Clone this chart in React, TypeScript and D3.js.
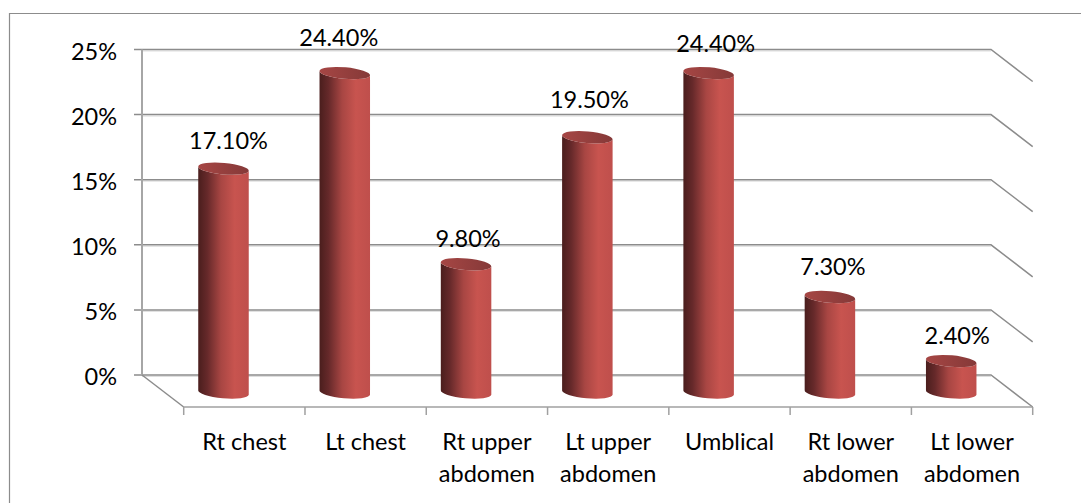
import React from 'react';
import * as d3 from 'd3';

const categories = [
  ['Rt chest'],
  ['Lt chest'],
  ['Rt upper', 'abdomen'],
  ['Lt upper', 'abdomen'],
  ['Umblical'],
  ['Rt lower', 'abdomen'],
  ['Lt lower', 'abdomen'],
];
const values = [17.1, 24.4, 9.8, 19.5, 24.4, 7.3, 2.4];
const valueLabels = ['17.10%', '24.40%', '9.80%', '19.50%', '24.40%', '7.30%', '2.40%'];
const yTicks = [0, 5, 10, 15, 20, 25];

// hand placed data labels in the original
const labelDx = [5, -6, 2, 2, 7, 3, 6];
const labelDy = [-19.5, -27, -17, -29, -21, -22, -17.5];

const width = 1081;
const height = 503;
const font = 'Lato, Carlito, sans-serif';
const fontSize = 23.5;
const gridColor = '#8c8c8c';
const shadowColor = '#dedede';

// back wall and 3D depth
const wallLeft = 142;
const wallRight = 991;
const depthX = 41.7;
const depthY = 32;
const barWidth = 50.5;
const ry = 5.8;
const tilt = 2.3;

const y = d3.scaleLinear().domain([0, 25]).range([375, 49.5]);
const barY = d3.scaleLinear().domain([0, 25]).range([392.5, 65.25]);
const xFront = d3.scaleBand<number>()
  .domain(d3.range(categories.length))
  .range([wallLeft + depthX, wallRight + depthX]);
const barCenter = (i: number) => xFront(i)! + xFront.bandwidth() / 2 - depthX / 2;

const cylinder = (cx: number, top: number, base: number) => {
  const l = cx - barWidth / 2;
  const r = cx + barWidth / 2;
  const arc = `A${barWidth / 2} ${ry} 5`;
  return {
    body: `M${l},${top - tilt}L${l},${base - tilt}${arc} 0 0 ${r},${base + tilt}L${r},${top + tilt}${arc} 0 1 ${l},${top - tilt}Z`,
    cap: `M${l},${top - tilt}${arc} 0 1 ${r},${top + tilt}${arc} 0 1 ${l},${top - tilt}Z`,
  };
};

export default function App() {
  const frontTicks = d3.range(categories.length + 1).map(i => wallLeft + depthX + i * xFront.step());
  return (
    <svg width={width} height={height} style={{ position: 'absolute', left: 0, top: 0, background: '#fff' }}>
      <defs>
        <linearGradient id="bar-side" x1="0" x2="1" y1="0" y2="0">
          <stop offset="0%" stopColor="#4a1e1d" />
          <stop offset="18%" stopColor="#66292a" />
          <stop offset="45%" stopColor="#a84643" />
          <stop offset="72%" stopColor="#c8544f" />
          <stop offset="100%" stopColor="#bf4f4c" />
        </linearGradient>
        <linearGradient id="bar-cap" x1="0" x2="1" y1="0" y2="0">
          <stop offset="0%" stopColor="#a64644" />
          <stop offset="100%" stopColor="#853938" />
        </linearGradient>
      </defs>

      {/* outer frame, only top and left show */}
      <line x1={9.5} x2={width} y1={13.5} y2={13.5} stroke={gridColor} strokeWidth={1.2} />
      <line x1={9.5} x2={9.5} y1={13} y2={height} stroke={gridColor} strokeWidth={1.2} />

      {/* gridlines with the wall return */}
      {yTicks.map(t => (
        <g key={t} fill="none">
          <line x1={wallLeft} x2={wallRight} y1={y(t) + 1.5} y2={y(t) + 1.5} stroke={shadowColor} strokeWidth={1} />
          <path
            d={`M${wallLeft - 8},${y(t)}L${wallRight},${y(t)}L${wallRight + depthX},${y(t) + depthY}`}
            stroke={gridColor}
            strokeWidth={1.5}
          />
        </g>
      ))}
      <line x1={wallLeft} x2={wallLeft} y1={y(25)} y2={y(0)} stroke="#a6a6a6" strokeWidth={2} />
      <line x1={wallLeft} x2={wallLeft + depthX} y1={y(0)} y2={y(0) + depthY} stroke={gridColor} strokeWidth={1.5} />
      <line x1={wallLeft + depthX} x2={wallRight + depthX} y1={y(0) + depthY} y2={y(0) + depthY} stroke="#a0a0a0" strokeWidth={1.5} />
      {frontTicks.map(tx => (
        <line key={tx} x1={tx} x2={tx} y1={y(0) + depthY} y2={y(0) + depthY + 8} stroke="#a0a0a0" strokeWidth={1.5} />
      ))}

      {/* y tick labels */}
      {yTicks.map(t => (
        <text key={t} x={117} y={y(t) + 10} textAnchor="end" fontFamily={font} fontSize={fontSize} fill="#000">
          {t}%
        </text>
      ))}

      {/* cylinders */}
      {values.map((v, i) => {
        const c = cylinder(barCenter(i), barY(v), barY(0));
        return (
          <g key={i}>
            <path d={c.body} fill="url(#bar-side)" />
            <path d={c.cap} fill="url(#bar-cap)" />
          </g>
        );
      })}

      {/* data labels */}
      {values.map((v, i) => (
        <text
          key={i}
          x={barCenter(i) + labelDx[i]}
          y={barY(v) + labelDy[i]}
          textAnchor="middle"
          fontFamily={font}
          fontSize={fontSize}
          fill="#000"
        >
          {valueLabels[i]}
        </text>
      ))}

      {/* category labels */}
      {categories.map((lines, i) => (
        <text
          key={i}
          x={xFront(i)! + xFront.bandwidth() / 2}
          textAnchor="middle"
          fontFamily={font}
          fontSize={fontSize}
          fill="#000"
        >
          {lines.map((l, j) => (
            <tspan key={j} x={xFront(i)! + xFront.bandwidth() / 2} y={450 + j * 31.5}>
              {l}
            </tspan>
          ))}
        </text>
      ))}
    </svg>
  );
}
